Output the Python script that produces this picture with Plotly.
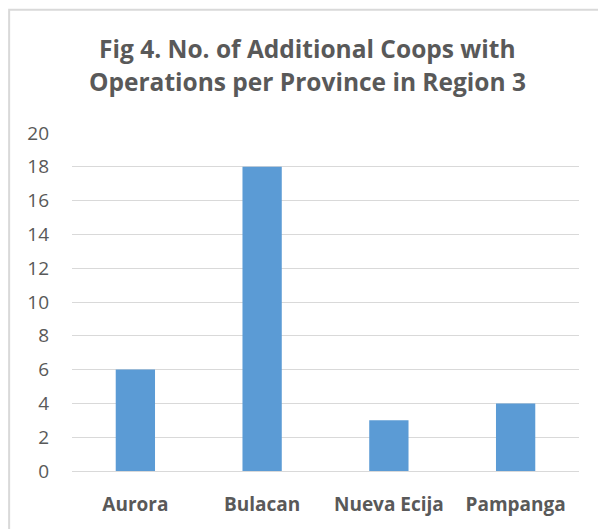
import plotly.graph_objects as go

provinces = ["Aurora", "Bulacan", "Nueva Ecija", "Pampanga"]
coops = [6, 18, 3, 4]
y_ticks = list(range(0, 21, 2))
title_lines = ["Fig 4. No. of Additional Coops with", "Operations per Province in Region 3"]

text_color = "#595959"
grid_color = "#D9D9D9"
font_family = "Open Sans, Lato, sans-serif"

fig = go.Figure()
fig.add_trace(go.Bar(x=provinces, y=coops, marker_color="#5B9BD5", marker_line_width=0))

# page body adds an 8px margin, so the figure is sized/offset to compensate
fig.update_layout(
    width=598,
    height=521,
    paper_bgcolor="white",
    plot_bgcolor="white",
    margin=dict(l=64, r=27, t=125, b=56),
    bargap=0.69,
    showlegend=False,
    font=dict(family=font_family, color=text_color),
)

# two title lines placed separately to get the wider line spacing
for line, ypos in zip(title_lines, [1.25, 1.153]):
    fig.add_annotation(
        text=f"<b>{line}</b>",
        xref="paper", yref="paper",
        x=0.465, y=ypos,
        xanchor="center", yanchor="middle",
        showarrow=False,
        font=dict(size=24.5, color=text_color, family=font_family),
    )

fig.update_yaxes(
    range=[0, 20],
    tickvals=y_ticks,
    showgrid=True,
    gridcolor=grid_color,
    gridwidth=1,
    zeroline=False,
    showline=False,
    ticks="",
    ticklabelstandoff=22,
    tickfont=dict(size=19, color=text_color),
)
fig.update_xaxes(
    showline=True,
    linecolor=grid_color,
    ticks="",
    tickfont=dict(size=19, color=text_color, weight="bold"),
    ticklabelstandoff=16,
)

# light chart-area frame (runs off the right and bottom edges)
fig.add_shape(
    type="rect", xref="paper", yref="paper",
    x0=-0.124, x1=1.2, y0=-0.4, y1=1.365,
    line=dict(color=grid_color, width=2),
)

fig.write_html("out.html")
